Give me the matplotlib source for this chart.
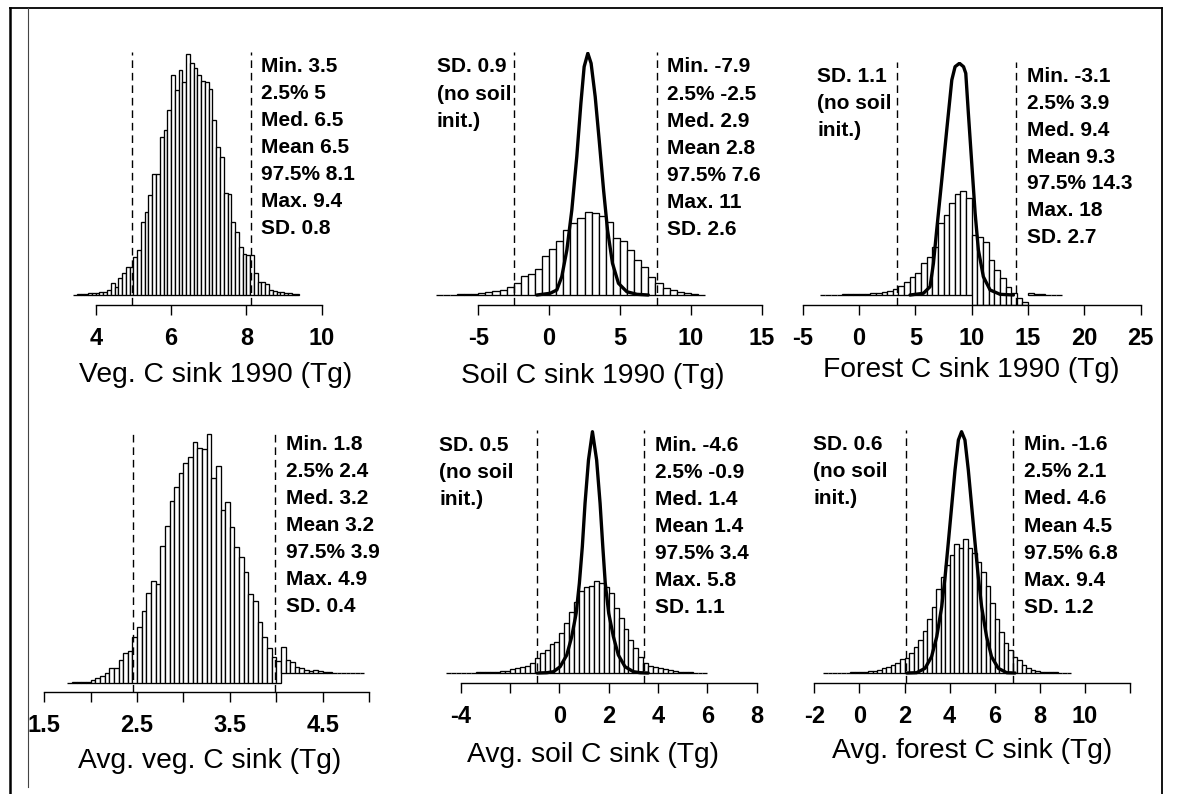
import numpy as np
import matplotlib
matplotlib.use("Agg")
import matplotlib.pyplot as plt
from matplotlib.lines import Line2D

plt.rcParams['font.family'] = ['Liberation Sans', 'DejaVu Sans']
plt.rcParams['axes.unicode_minus'] = False

# ---------------- data ----------------
stat_names = ['Min.', '2.5%', 'Med.', 'Mean', '97.5%', 'Max.', 'SD.']

# Panel 1: Veg. C sink 1990
veg90_lo, veg90_w = 3.4, 0.1
veg90_counts = [0.3, 0.7, 1.0, 1.3, 1.7, 2.0, 2.3, 2.7, 3.3, 5.0, 11.7, 7.7, 16.7, 22.3,
                28.3, 27.7, 38.3, 45.0, 73.3, 83.3, 100, 121, 121, 158.3, 165, 185, 220,
                205, 225, 213.3, 241, 231.7, 227.3, 220, 214.3, 213.3, 205.7, 175, 148.3,
                138.3, 101.7, 101, 73.3, 63.3, 48.3, 41, 40, 39.7, 21.7, 13.3, 13.3, 11,
                5.0, 4.0, 3.3, 2.7, 2.3, 1.7, 1.3, 1.0]
veg90_q = [4.97, 8.12]
veg90_stats = ['3.5', '5', '6.5', '6.5', '8.1', '9.4', '0.8']
veg90_ticks = [4, 6, 8, 10]
veg90_ticklabels = ['4', '6', '8', '10']

# Panel 2: Soil C sink 1990
soil90_lo, soil90_w = -8.0, 0.5
soil90_counts = [0.2, 0.3, 0.3, 0.7, 1.0, 1.3, 1.7, 3.3, 4.0, 5.0, 7.7, 11.7, 19.0, 20.7,
                 26.0, 39.3, 46.0, 54.3, 65.0, 71.7, 77.3, 82.7, 81.7, 79.0, 73.3, 56.7,
                 54.3, 45.0, 35.0, 27.7, 17.7, 11.7, 7.3, 5.0, 2.7, 1.7, 0.7, 0.3]
soil90_q = [-2.5, 7.6]
soil90_curve_x = [-0.87, 0.07, 0.54, 0.89, 1.25, 1.60, 1.95, 2.24, 2.47, 2.73, 2.96, 3.25,
                  3.53, 3.84, 4.12, 4.47, 4.89, 5.48, 6.19, 7.0]
soil90_curve_y = [0, 1.7, 5.0, 18.3, 45.0, 85.0, 138.3, 191.7, 228.3, 241.7, 231.7, 198.3,
                  155.0, 105.0, 65.0, 31.7, 11.7, 3.3, 0.7, 0]
soil90_stats = ['-7.9', '-2.5', '2.9', '2.8', '7.6', '11', '2.6']
soil90_sd_noinit = '0.9'
soil90_ticks = [-5, 0, 5, 10, 15]
soil90_ticklabels = ['-5', '0', '5', '10', '15']

# Panel 3: Forest C sink 1990
for90_lo, for90_w = -3.5, 0.5
for90_counts = [0.3, 0.3, 0.3, 0.3, 0.7, 0.7, 1.0, 1.0, 1.3, 1.7, 2.0, 2.7, 3.7, 5.7, 9.0,
                13.3, 18.3, 21.7, 31.7, 38.3, 48.3, 72.3, 80.0, 91.7, 101, 104, 96.7, 70.0,
                68.3, 63.3, 45.0, 35.0, 26.7, 18.3, 11.7, 6.7, 3.3, 1.7, 1.0, 0.7, 0.3,
                0.3, 0.3]
for90_q = [3.39, 13.93]
for90_curve_x = [4.52, 5.71, 6.30, 6.60, 6.89, 7.34, 7.78, 8.23, 8.52, 8.91, 9.27, 9.47,
                 9.70, 10.0, 10.3, 10.59, 11.03, 11.63, 12.51, 13.7]
for90_curve_y = [0, 1.7, 8.3, 31.7, 65.0, 115, 165, 215, 228.3, 231.7, 228.3, 221.7,
                 181.7, 131.7, 81.7, 45.0, 18.3, 5.0, 0.7, 0]
for90_stats = ['-3.1', '3.9', '9.4', '9.3', '14.3', '18', '2.7']
for90_sd_noinit = '1.1'
for90_ticks = [-5, 0, 5, 10, 15, 20, 25]
for90_ticklabels = ['-5', '0', '5', '10', '15', '20', '25']

# Panel 4: Avg. veg. C sink
aveg_lo, aveg_w = 1.75, 0.05
aveg_counts = [0.5, 0.7, 0.7, 1.0, 1.3, 3.3, 5.0, 6.7, 10.0, 15.0, 15.0, 23.0, 30.0, 32.3,
               46.3, 55.7, 72.3, 89.7, 102.3, 99.0, 137, 157, 182, 195.7, 210.3, 220.3,
               225.7, 241.3, 234.7, 233.7, 249, 204.7, 217.3, 173, 181.3, 156.3, 135.7,
               126.3, 111.3, 89.0, 82.3, 61.3, 46.3, 34.7, 26.0, 22.0,
               26.0, 13.0, 11.7, 6.7, 5.7, 3.3, 2.7, 3.3, 2.3, 1.0, 1.0, 0.7, 0.7, 0.3,
               0.3, 0.3, 0.3, 0.3]
aveg_q = [2.46, 3.99]
aveg_stats = ['1.8', '2.4', '3.2', '3.2', '3.9', '4.9', '0.4']
aveg_ticks = [1.5, 2.0, 2.5, 3.0, 3.5, 4.0, 4.5, 5.0]
aveg_ticklabels = ['1.5', '', '2.5', '', '3.5', '', '4.5', '']

# Panel 5: Avg. soil C sink
asoil_lo, asoil_w = -4.6, 0.2
asoil_counts = [0.3, 0.3, 0.3, 0.3, 0.3, 0.3, 0.7, 0.7, 1.0, 1.0, 1.3, 2.0, 2.3,
                3.7, 4.7, 6.3, 7.0, 9.7, 14.7, 19.7, 23.0, 29.0, 31.3, 39.7, 50.3, 61.3,
                71.3, 82.3, 86.3, 87.3, 92.3, 89.7, 86.3, 79.7, 64.7, 54.7, 43.7, 33.0,
                24.7, 16.3, 9.7, 7.0, 5.7, 4.7, 3.7, 2.7, 2.0, 1.3, 1.0, 0.7, 0.5, 0.3, 0.3]
asoil_q = [-0.89, 3.43]
asoil_curve_x = [-0.9, -0.51, -0.24, 0.03, 0.30, 0.50, 0.68, 0.81, 0.93, 1.04, 1.18, 1.34,
                 1.51, 1.65, 1.76, 1.86, 2.00, 2.19, 2.39, 2.66, 3.00, 3.27, 3.6]
asoil_curve_y = [0, 0.3, 1.3, 6.3, 18.0, 36.3, 59.7, 89.7, 126.3, 169.7, 213.0, 241.3,
                 213.0, 169.7, 126.3, 89.7, 59.7, 36.3, 18.0, 6.3, 1.3, 0.3, 0]
asoil_stats = ['-4.6', '-0.9', '1.4', '1.4', '3.4', '5.8', '1.1']
asoil_sd_noinit = '0.5'
asoil_ticks = [-4, -2, 0, 2, 4, 6, 8]
asoil_ticklabels = ['-4', '', '0', '2', '4', '6', '8']

# Panel 6: Avg. forest C sink
afor_lo, afor_w = -1.6, 0.2
afor_counts = [0.3, 0.3, 0.3, 0.3, 0.3, 0.3, 0.7, 0.7, 1.0, 1.3, 1.7, 2.3, 3.3,
               4.7, 6.3, 8.0, 9.7, 13.7, 14.7, 19.7, 26.3, 33.0, 42.3, 53.7, 66.3, 84.0,
               96.3, 108, 118, 129, 124.7, 134, 124.7, 119.7, 111.3, 101.3, 87.3, 69.7,
               53.7, 41.3, 30.3, 23.0, 16.3, 13.0, 8.0, 4.7, 3.0, 2.0, 1.3, 1.0, 0.7,
               0.7, 0.3, 0.3, 0.3]
afor_q = [2.07, 6.8]
afor_curve_x = [2.1, 2.54, 2.91, 3.20, 3.43, 3.65, 3.80, 3.94, 4.09, 4.24, 4.39, 4.53,
                4.68, 4.83, 4.98, 5.13, 5.27, 5.42, 5.64, 5.86, 6.16, 6.53, 6.9]
afor_curve_y = [0, 0.3, 4.7, 16.3, 36.3, 66.3, 96.3, 129.7, 166.3, 203.0, 233.0, 241.3,
                233.0, 203.0, 166.3, 129.7, 96.3, 66.3, 36.3, 16.3, 4.7, 0.3, 0]
afor_stats = ['-1.6', '2.1', '4.6', '4.5', '6.8', '9.4', '1.2']
afor_sd_noinit = '0.6'
afor_ticks = [-2, 0, 2, 4, 6, 8, 10, 12]
afor_ticklabels = ['-2', '0', '2', '4', '6', '8', '10', '']

xlabels = ['Veg. C sink 1990 (Tg)', 'Soil C sink 1990 (Tg)', 'Forest C sink 1990 (Tg)',
           'Avg. veg. C sink (Tg)', 'Avg. soil C sink (Tg)', 'Avg. forest C sink (Tg)']

# ---------------- layout (pixels) ----------------
W, H = 1178, 794
fig = plt.figure(figsize=(W / 100, H / 100), dpi=100)

panels = [
    dict(lo=veg90_lo, w=veg90_w, counts=veg90_counts, q=veg90_q, stats=veg90_stats,
         ticks=veg90_ticks, tl=veg90_ticklabels, curve=None, sd=None,
         L=40, R=370, top=52, axis=305, base=295, v0=4, p0=95.7, s=37.67,
         tx=261, lx=None, ty=64, sp=27.1, xl=(215.8, 381.7)),
    dict(lo=soil90_lo, w=soil90_w, counts=soil90_counts, q=soil90_q, stats=soil90_stats,
         ticks=soil90_ticks, tl=soil90_ticklabels, curve=(soil90_curve_x, soil90_curve_y),
         sd=soil90_sd_noinit,
         L=425, R=790, top=52, axis=305, base=295, v0=-5, p0=478.3, s=14.17,
         tx=666.7, lx=436.7, ty=65, sp=27.1, xl=(593, 383)),
    dict(lo=for90_lo, w=for90_w, counts=for90_counts, q=for90_q, stats=for90_stats,
         ticks=for90_ticks, tl=for90_ticklabels, curve=(for90_curve_x, for90_curve_y),
         sd=for90_sd_noinit,
         L=800, R=1150, top=62, axis=305, base=295, v0=-5, p0=802.7, s=11.27,
         tx=1026.7, lx=817.3, ty=75, sp=26.7, xl=(971.7, 377)),
    dict(lo=aveg_lo, w=aveg_w, counts=aveg_counts, q=aveg_q, stats=aveg_stats,
         ticks=aveg_ticks, tl=aveg_ticklabels, curve=None, sd=None,
         L=40, R=380, top=430, axis=692, base=683, v0=1.5, p0=44.3, s=92.77,
         tx=286, lx=None, ty=442.3, sp=27.1, xl=(210, 768)),
    dict(lo=asoil_lo, w=asoil_w, counts=asoil_counts, q=asoil_q, stats=asoil_stats,
         ticks=asoil_ticks, tl=asoil_ticklabels, curve=(asoil_curve_x, asoil_curve_y),
         sd=asoil_sd_noinit,
         L=425, R=790, top=430, axis=683, base=673, v0=-4, p0=460.7, s=24.67,
         tx=655, lx=439.3, ty=443.3, sp=27.1, xl=(593, 761.7)),
    dict(lo=afor_lo, w=afor_w, counts=afor_counts, q=afor_q, stats=afor_stats,
         ticks=afor_ticks, tl=afor_ticklabels, curve=(afor_curve_x, afor_curve_y),
         sd=afor_sd_noinit,
         L=800, R=1150, top=430, axis=683, base=673, v0=-2, p0=814.3, s=22.55,
         tx=1024, lx=813.3, ty=442.7, sp=27.1, xl=(971.7, 758)),
]

STAT_FS = 15
TICK_FS = 17
XLAB_FS = 20.3


def ftext(x, y, s, **kw):
    fig.text(x / W, 1 - y / H, s, **kw)


for i, p in enumerate(panels):
    ax = fig.add_axes([p['L'] / W, 1 - p['axis'] / H, (p['R'] - p['L']) / W,
                       (p['axis'] - p['top']) / H])
    ax.set_xlim(p['v0'] + (p['L'] - p['p0']) / p['s'], p['v0'] + (p['R'] - p['p0']) / p['s'])
    ax.set_ylim(-(p['axis'] - p['base']), p['base'] - p['top'])
    ax.patch.set_alpha(0)

    counts = np.array(p['counts'], dtype=float)
    left = p['lo'] + p['w'] * np.arange(len(counts))
    bottom = np.zeros_like(counts)
    if i == 3:   # bars beyond 4.0 sit on a raised base in the reference
        bottom[left >= 4.02] = 9.7
    if i == 2:   # bars from 10 to 15 reach down to the axis in the reference
        bottom[(left >= 9.98) & (left < 15)] = -10
    ax.bar(left, counts, width=p['w'], bottom=bottom, align='edge', facecolor='white',
           edgecolor='black', linewidth=0.95, zorder=2)

    for qv in p['q']:
        ax.axvline(qv, color='black', lw=1.0, ls=(0, (5.5, 3.5)), zorder=3)

    if p['curve'] is not None:
        ax.plot(p['curve'][0], p['curve'][1], color='black', lw=2.4, zorder=4,
                solid_joinstyle='round', solid_capstyle='round')

    for side in ['top', 'left', 'right']:
        ax.spines[side].set_visible(False)
    ax.spines['bottom'].set_bounds(p['ticks'][0], p['ticks'][-1])
    ax.spines['bottom'].set_linewidth(1.0)
    ax.set_yticks([])
    ax.set_xticks(p['ticks'])
    ax.set_xticklabels(p['tl'], fontsize=TICK_FS, fontweight='bold')
    ax.tick_params(axis='x', direction='out', length=7.4, width=1.0, pad=8.2)

    # statistics text
    for k, (nm, val) in enumerate(zip(stat_names, p['stats'])):
        ftext(p['tx'], p['ty'] + k * p['sp'] + 7.5, f'{nm} {val}', ha='left', va='baseline',
              fontsize=STAT_FS, fontweight='bold')
    if p['sd'] is not None:
        for k, line in enumerate([f'SD. {p["sd"]}', '(no soil', 'init.)']):
            ftext(p['lx'], p['ty'] + k * p['sp'] + 7.5, line, ha='left', va='baseline',
                  fontsize=STAT_FS, fontweight='bold')

    ftext(p['xl'][0], p['xl'][1], xlabels[i], ha='center', va='baseline', fontsize=XLAB_FS)

# outer frame (as in the reference screenshot)
def fline(x1, y1, x2, y2, **kw):
    fig.add_artist(Line2D([x1 / W, x2 / W], [1 - y1 / H, 1 - y2 / H],
                          transform=fig.transFigure, **kw))

fline(10, 794, 10, 8, color='black', lw=1.8)
fline(10, 8, 1162, 8, color='black', lw=1.3)
fline(1162, 8, 1162, 794, color='black', lw=1.3)
fline(28, 8, 28, 787, color='#444444', lw=0.8)

fig.savefig('out.png', dpi=100)
